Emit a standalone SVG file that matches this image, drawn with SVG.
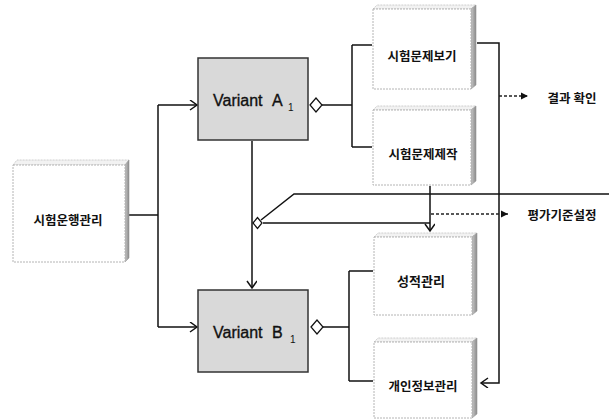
<svg xmlns="http://www.w3.org/2000/svg" width="609" height="420" viewBox="0 0 609 420">
<style>
.face{fill:#fff;stroke:#b4b4b4;stroke-width:1;stroke-dasharray:2 1}
.top{fill:#f2f2f2;stroke:#c4c4c4;stroke-width:0.8;stroke-dasharray:2 1}
.side{fill:url(#sideGrad);stroke:#999;stroke-width:0.6}
.var{fill:#d9d9d9;stroke:#333;stroke-width:1.5}
.kt{font-family:"Noto Sans CJK KR","Noto Sans",sans-serif;font-size:12.5px;font-weight:bold;fill:#111;text-anchor:middle;dominant-baseline:central}
.vt{font-family:"Liberation Sans",Arial,sans-serif;font-size:16px;fill:#111;stroke:#111;stroke-width:0.35}
.sub{font-family:"Liberation Sans",Arial,sans-serif;font-size:10px;fill:#111}
.ln{fill:none;stroke:#111;stroke-width:1.5}
.dash{fill:none;stroke:#222;stroke-width:1.3;stroke-dasharray:3 2}
.dia{fill:#fff;stroke:#111;stroke-width:1.2}
</style>
<defs>
<linearGradient id="sideGrad" x1="0" y1="0" x2="1" y2="0">
<stop offset="0" stop-color="#c8c8c8"/>
<stop offset="1" stop-color="#8a8a8a"/>
</linearGradient>
<marker id="open" markerUnits="userSpaceOnUse" markerWidth="12" markerHeight="12" refX="9" refY="5" orient="auto">
<path d="M2,0 L9,5 L2,10" fill="none" stroke="#111" stroke-width="1.5"/>
</marker>
<marker id="fill" markerUnits="userSpaceOnUse" markerWidth="10" markerHeight="10" refX="7" refY="4" orient="auto">
<path d="M0,0.5 L7,4 L0,7.5 Z" fill="#111"/>
</marker>
</defs>

<g id="connectors">
<path class="ln" d="M129,215 H158"/>
<path class="ln" d="M158,105 V327"/>
<path class="ln" d="M158,105 H197" marker-end="url(#open)"/>
<path class="ln" d="M158,327 H197" marker-end="url(#open)"/>
<path class="ln" d="M322,105 H352"/>
<path class="ln" d="M352,45 V147"/>
<path class="ln" d="M352,45 H372"/>
<path class="ln" d="M352,147 H372"/>
<path class="ln" d="M477,43 H499 V383 H481" marker-end="url(#open)"/>
<path class="dash" d="M499,96 H528" marker-end="url(#fill)"/>
<path class="ln" d="M252,141 V288" marker-end="url(#open)"/>
<path class="ln" d="M261,220 L294,194 H609"/>
<path class="ln" d="M263,223 H430"/>
<path class="ln" d="M430,186 V231" marker-end="url(#open)"/>
<path class="dash" d="M431,214 H508" marker-end="url(#fill)"/>
<path class="ln" d="M322,327 H349"/>
<path class="ln" d="M349,271 V381"/>
<path class="ln" d="M349,271 H373"/>
<path class="ln" d="M349,381 H373"/>
<polygon class="dia" points="310,105 316,98 322,105 316,112"/>
<polygon class="dia" points="311,327 317,320 323,327 317,334"/>
<polygon class="dia" points="253,223 257.5,217.5 262,223 257.5,228.5"/>
</g>

<g id="node-exam-operation">
<polygon class="top" points="13,165 17,160 129,160 125,165"/>
<polygon class="side" points="125,165 129,160 129,258 125,262"/>
<rect class="face" x="13" y="165" width="112" height="97"/>
<text class="kt" x="68" y="219">시험운행관리</text>
</g>

<g id="node-variant-a">
<rect class="var" x="198" y="58" width="110" height="82"/>
<text class="vt" x="213" y="106">Variant</text>
<text class="vt" x="272" y="106">A</text>
<text class="sub" x="288" y="111">1</text>
</g>

<g id="node-variant-b">
<rect class="var" x="198" y="290" width="110" height="82"/>
<text class="vt" x="213" y="338">Variant</text>
<text class="vt" x="272" y="338">B</text>
<text class="sub" x="290" y="343">1</text>
</g>

<g id="node-view-questions">
<polygon class="top" points="373,9 377,5 476,5 471,9"/>
<polygon class="side" points="471,9 476,5 476,85 471,89"/>
<rect class="face" x="373" y="9" width="98" height="80"/>
<text class="kt" x="422" y="55">시험문제보기</text>
</g>

<g id="node-make-questions">
<polygon class="top" points="373,110 377,106 476,106 471,110"/>
<polygon class="side" points="471,110 476,106 476,181 471,185"/>
<rect class="face" x="373" y="110" width="98" height="75"/>
<text class="kt" x="423" y="153">시험문제제작</text>
</g>

<g id="node-grades">
<polygon class="top" points="374,237 378,233 477,233 472,237"/>
<polygon class="side" points="472,237 477,233 477,311 472,315"/>
<rect class="face" x="374" y="237" width="98" height="78"/>
<text class="kt" x="421" y="280" style="font-size:13px">성적관리</text>
</g>

<g id="node-personal-info">
<polygon class="top" points="374,342 378,338 477,338 472,342"/>
<polygon class="side" points="472,342 477,338 477,414 472,418"/>
<rect class="face" x="374" y="342" width="98" height="76"/>
<text class="kt" x="423" y="385">개인정보관리</text>
</g>

<g id="labels">
<text class="kt" x="572" y="97">결과 확인</text>
<text class="kt" x="562" y="214">평가기준설정</text>
</g>
</svg>
